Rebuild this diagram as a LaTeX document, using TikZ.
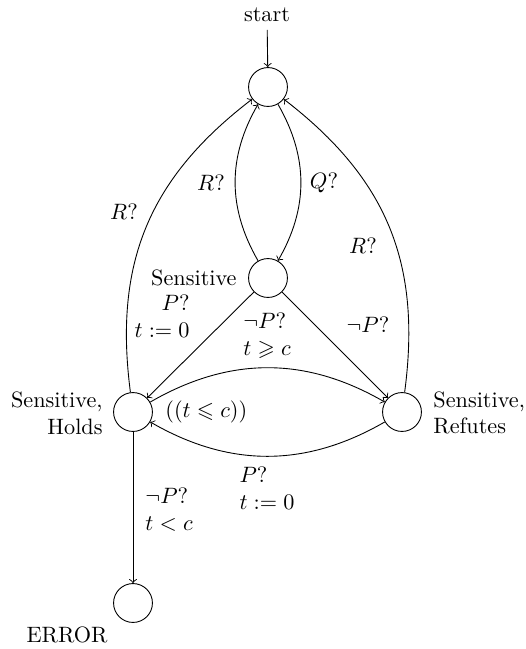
\documentclass[tikz,border=0pt]{standalone}
\usepackage{amssymb}
\begin{document}
\begin{tikzpicture}[x=0.45pt,y=-0.45pt,
  loc/.style={circle,draw,minimum size=17.5pt,inner sep=0pt},
  lbl/.style={inner sep=0pt},
  >=to]
\useasboundingbox (0,0) rectangle (525,649);
% states
\node[loc] (top) at (268,87) {};
\node[loc] (sens) at (268,278) {};
\node[loc] (holds) at (133,412) {};
\node[loc] (ref) at (402,412) {};
\node[loc] (err) at (133,603) {};
\node (start) at (267,15) {start};
% state labels
\node[lbl,anchor=east,align=right] (lh) at (103,413) {Sensitive,\\Holds};
\node[lbl,anchor=west,align=left] (lrf) at (433,413) {Sensitive,\\Refutes};
\node[lbl] (le) at (67,635) {ERROR};
\node[lbl,anchor=east] (ls) at (237,278) {Sensitive};
\node[lbl,anchor=west] (linv) at (165,412) {$((t\leqslant c))$};
% edge labels
\node[lbl] (lq) at (324,183) {$Q?$};
\node[lbl] (lr1) at (211,183) {$R?$};
\node[lbl] (lr2) at (124,212) {$R?$};
\node[lbl] (lr3) at (363,246) {$R?$};
\node[lbl,anchor=east,align=right] (lp1) at (190,316) {$P?$\\$t:=0$};
\node[lbl,align=left] (ln1) at (267,336) {$\neg P?$\\$t\geqslant c$};
\node[lbl] (ln2) at (368,325) {$\neg P?$};
\node[lbl,align=left] (lp2) at (267,488) {$P?$\\$t:=0$};
\node[lbl,anchor=west,align=left] (ln3) at (145,510) {$\neg P?$\\$t<c$};
% transitions
\draw[->] (start) -- (top);
\draw[->] (top) to[bend left] (sens);
\draw[->] (sens) to[bend left] (top);
\draw[->] (holds) to[bend left,looseness=1.05] (top);
\draw[->] (ref) to[bend right,looseness=1.05] (top);
\draw[->] (sens) -- (holds);
\draw[->] (sens) -- (ref);
\draw[->] (holds) to[bend left] (ref);
\draw[->] (ref) to[bend left] (holds);
\draw[->] (holds) -- (err);
\end{tikzpicture}
\end{document}
